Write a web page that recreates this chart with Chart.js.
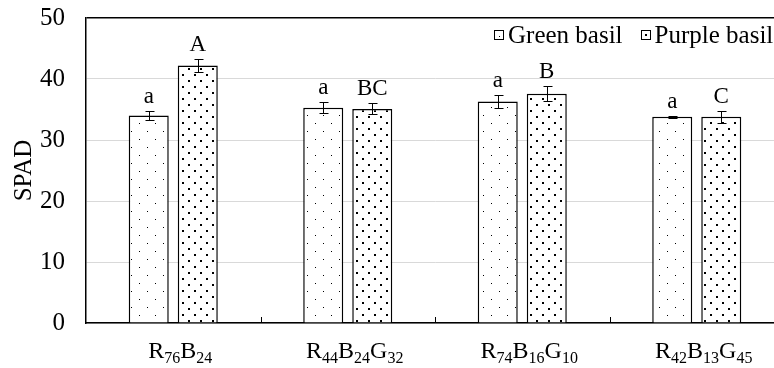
<!DOCTYPE html>
<html>
<head>
<meta charset="utf-8">
<script src="https://cdn.jsdelivr.net/npm/chart.js@4/dist/chart.umd.min.js"></script>
<style>
html, body { margin: 0; background: #fff; overflow: hidden; }
#wrap { width: 774px; height: 368px; overflow: hidden; }
</style>
</head>
<body>
<div id="wrap"><canvas id="grafico_barra" width="784" height="368"></canvas></div>
<script>
// dados
const categories = ['R76B24', 'R44B24G32', 'R74B16G10', 'R42B13G45']
const seriesNames = ['Green basil', 'Purple basil']
const greenValues = [34.0, 35.3, 36.3, 33.8]
const greenErrors = [0.7, 0.9, 1.1, 0.2]
const purpleValues = [42.2, 35.1, 37.6, 33.8]
const purpleErrors = [1.0, 0.9, 1.2, 1.0]
const greenLetters = ['a', 'a', 'a', 'a']
const purpleLetters = ['A', 'BC', 'B', 'C']
const yTicks = [0, 10, 20, 30, 40, 50]

const FONT = "'Liberation Serif', 'Times New Roman', serif"

// padrões de pontos
function dotPattern(size, dot, spots) {
  const c = document.createElement('canvas')
  c.width = size
  c.height = size
  const g = c.getContext('2d')
  g.fillStyle = '#fff'
  g.fillRect(0, 0, size, size)
  g.fillStyle = '#000'
  spots.forEach(([x, y]) => g.fillRect(x, y, dot, dot))
  return g.createPattern(c, 'repeat')
}
const greenFill = dotPattern(16, 1, [[3, 3], [11, 11]])
const purpleFill = dotPattern(12, 2, [[2, 2], [8, 8]])

const errors = [greenErrors, purpleErrors]
const letters = [greenLetters, purpleLetters]

// barras de erro, letras, rótulos e legenda
const extras = {
  id: 'extras',
  afterDatasetsDraw(chart) {
    const ctx = chart.ctx
    const y = chart.scales.y
    const x = chart.scales.x
    const area = chart.chartArea
    ctx.save()
    ctx.strokeStyle = '#000'
    ctx.fillStyle = '#000'
    ctx.lineWidth = 1
    chart.data.datasets.forEach((ds, i) => {
      const meta = chart.getDatasetMeta(i)
      meta.data.forEach((bar, j) => {
        const v = ds.data[j]
        const e = errors[i][j]
        const yt = Math.round(y.getPixelForValue(v + e)) + 0.5
        const yb = Math.round(y.getPixelForValue(v - e)) + 0.5
        const bx = Math.round(bar.x) + 0.5
        ctx.beginPath()
        ctx.moveTo(bx, yt); ctx.lineTo(bx, yb)
        ctx.moveTo(bx - 4, yt); ctx.lineTo(bx + 5, yt)
        ctx.moveTo(bx - 4, yb); ctx.lineTo(bx + 5, yb)
        ctx.stroke()
        ctx.font = '23px ' + FONT
        ctx.textAlign = 'center'
        ctx.textBaseline = 'alphabetic'
        ctx.fillText(letters[i][j], bar.x, yt - 9)
      })
    })

    // marcas entre categorias
    for (let i = 1; i < categories.length; i++) {
      const tx = Math.round((x.getPixelForValue(i - 1) + x.getPixelForValue(i)) / 2) + 0.5
      ctx.beginPath()
      ctx.moveTo(tx, area.bottom)
      ctx.lineTo(tx, area.bottom - 6)
      ctx.stroke()
    }

    // rótulos com subscrito
    const big = '24px ' + FONT
    const small = '16px ' + FONT
    ctx.textAlign = 'left'
    ctx.textBaseline = 'alphabetic'
    categories.forEach((lab, i) => {
      const parts = lab.match(/[A-Z]|\d+/g).map(t => ({ t, sub: /\d/.test(t) }))
      let w = 0
      parts.forEach(p => { ctx.font = p.sub ? small : big; p.w = ctx.measureText(p.t).width; w += p.w })
      let cx = x.getPixelForValue(i) + 7 - w / 2
      parts.forEach(p => {
        ctx.font = p.sub ? small : big
        ctx.fillText(p.t, cx, p.sub ? 363 : 358)
        cx += p.w
      })
    })

    // legenda
    ctx.font = '25px ' + FONT
    const items = chart.data.datasets.map(ds => ({ text: ds.label }))
    const box = 10, gapTxt = 4, gapItem = 18
    let total = 0
    items.forEach((it, k) => { it.w = ctx.measureText(it.text).width; total += box + gapTxt + it.w + (k ? gapItem : 0) })
    let lx = Math.round(773 - total)
    const ly = 35
    items.forEach((it, k) => {
      if (k) lx += gapItem
      const bx = Math.round(lx)
      ctx.fillStyle = '#fff'
      ctx.fillRect(bx, ly - 5, box, box)
      ctx.strokeStyle = '#000'
      ctx.strokeRect(bx + 0.5, ly - 4.5, box - 1, box - 1)
      ctx.fillStyle = '#000'
      if (k) ctx.fillRect(bx + 4, ly - 1, 2, 2)
      else ctx.fillRect(bx + 5, ly + 1, 1, 1)
      ctx.textBaseline = 'middle'
      ctx.fillText(it.text, lx + box + gapTxt, ly + 1)
      lx += box + gapTxt + it.w
    })
    ctx.restore()
  }
}

const data = {
  labels: categories,
  datasets: [
    {
      label: seriesNames[0],
      data: greenValues,
      backgroundColor: greenFill,
      borderColor: '#000',
      borderWidth: 1.5,
      categoryPercentage: 0.562,
      barPercentage: 0.816
    },
    {
      label: seriesNames[1],
      data: purpleValues,
      backgroundColor: purpleFill,
      borderColor: '#000',
      borderWidth: 1.5,
      categoryPercentage: 0.562,
      barPercentage: 0.816
    }
  ]
}

const config = {
  type: 'bar',
  data,
  plugins: [extras],
  options: {
    responsive: false,
    animation: false,
    devicePixelRatio: 1,
    layout: { padding: { top: 18, bottom: 45, left: 0, right: 0 } },
    plugins: {
      legend: { display: false },
      tooltip: { enabled: false }
    },
    scales: {
      x: {
        ticks: { display: false },
        grid: { display: true, drawOnChartArea: false, drawTicks: false },
        border: { color: '#000', width: 1.5 },
        afterFit: s => { s.paddingLeft = 0; s.paddingRight = 0 }
      },
      y: {
        min: 0,
        max: 50,
        afterBuildTicks: s => { s.ticks = yTicks.map(v => ({ value: v })) },
        afterFit: s => { s.width = 86; s.paddingTop = 0; s.paddingBottom = 0 },
        ticks: {
          color: '#000',
          padding: 21,
          font: { family: FONT, size: 25 }
        },
        grid: {
          drawTicks: false,
          color: c => c.tick && c.tick.value === 50 ? '#000' : '#d9d9d9',
          lineWidth: c => c.tick && c.tick.value === 50 ? 1.5 : 1
        },
        border: { color: '#000', width: 1.5 },
        title: {
          display: true,
          text: 'SPAD',
          color: '#000',
          font: { family: FONT, size: 25 },
          padding: { top: 9, bottom: 0 }
        }
      }
    }
  }
}

const graph = new Chart(document.getElementById('grafico_barra'), config)
</script>
</body>
</html>
